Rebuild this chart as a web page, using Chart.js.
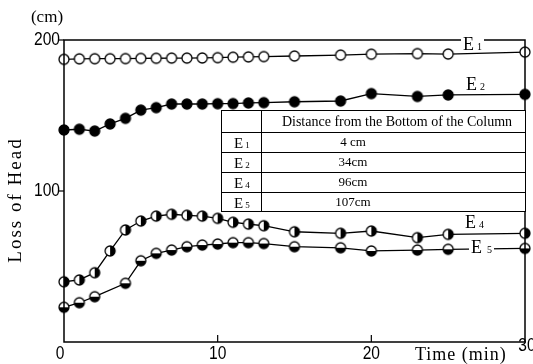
<!DOCTYPE html>
<html><head><meta charset="utf-8">
<script src="https://cdn.jsdelivr.net/npm/chart.js@4/dist/chart.umd.min.js"></script>
<style>html,body{margin:0;padding:0;background:#fff;}canvas{display:block;}</style>
</head><body>
<canvas id="c" width="533" height="364"></canvas>
<script>
// Time of measurement (min)
const timesMain = [0,1,2,3,4,5,6,7,8,9,10,11,12,13,15,18,20,23,25,30];
const timesE5   = [0,1,2,4,5,6,7,8,9,10,11,12,13,15,18,20,23,25,30];

// Loss of head (cm) at each piezometer
const lossE1 = [187.2,187.5,187.6,187.6,187.7,187.8,187.9,188,188,188.1,188.3,188.6,188.8,189,189.4,190,190.6,191,190.7,192];
const lossE2 = [140.4,140.9,139.7,144.4,148.1,153.6,155.2,157.6,157.6,157.6,157.8,157.9,158.3,158.5,159.1,159.6,164.5,162.6,163.6,164];
const lossE4 = [39.9,41.1,45.9,60.3,74.2,80.1,83.4,84.6,83.9,83.4,81.9,79.3,78.1,77,73,72,73.5,69.1,71.3,72];
const lossE5 = [23,26,30,38.9,53.8,58.7,60.9,63.1,64.2,64.9,65.8,65.8,65.2,63.1,62.4,60.3,60.9,61.4,62];

// Piezometer table
const gaugeNames = ['1','2','4','5'];
const gaugeDistances = ['4 cm','34cm','96cm','107cm'];
const tableHeader = 'Distance from the Bottom of the Column';

const SERIF = '"Liberation Serif", "DejaVu Serif", serif';
const SANS = '"Liberation Sans", Arial, sans-serif';

function marker(kind) {
  const c = document.createElement('canvas');
  c.width = 14; c.height = 14;
  const g = c.getContext('2d');
  const cx = 7, cy = 7, r = 5;
  g.beginPath(); g.arc(cx, cy, r, 0, Math.PI * 2);
  g.fillStyle = kind === 'filled' ? '#000' : '#fff';
  g.fill();
  g.fillStyle = '#000';
  if (kind === 'right') {
    g.beginPath(); g.moveTo(cx, cy - r); g.arc(cx, cy, r, -Math.PI / 2, Math.PI / 2); g.closePath(); g.fill();
  } else if (kind === 'bottom') {
    g.beginPath(); g.moveTo(cx + r, cy); g.arc(cx, cy, r, 0, Math.PI); g.closePath(); g.fill();
  }
  g.beginPath(); g.arc(cx, cy, r, 0, Math.PI * 2);
  g.lineWidth = 1.3; g.strokeStyle = '#000'; g.stroke();
  return c;
}

function pts(xs, ys) { return xs.map((x, i) => ({ x, y: ys[i] })); }

function series(label, xs, ys, kind) {
  return {
    label, data: pts(xs, ys), pointStyle: marker(kind),
    borderColor: '#000', borderWidth: 1.3, tension: 0, clip: false,
    pointRadius: 6, pointHoverRadius: 6
  };
}

// narrow numerals
function narrowText(ctx, text, x, y, size, sx, align) {
  ctx.save();
  ctx.font = size + 'px ' + SANS;
  ctx.textBaseline = 'middle';
  ctx.textAlign = align;
  ctx.translate(x, y); ctx.scale(sx, 1);
  ctx.fillText(text, 0, 0);
  ctx.restore();
}

function subLabel(ctx, digit, x, y, eSize, sSize, bg, gap) {
  ctx.save();
  ctx.font = eSize + 'px ' + SERIF;
  const ew = ctx.measureText('E').width;
  ctx.font = sSize + 'px ' + SERIF;
  const sw = ctx.measureText(digit).width;
  if (bg) {
    ctx.fillStyle = '#fff';
    ctx.fillRect(x - 2, y - eSize * 0.75, ew + sw + gap + 4, eSize * 0.8);
  }
  ctx.fillStyle = '#000';
  ctx.textBaseline = 'alphabetic'; ctx.textAlign = 'left';
  ctx.font = eSize + 'px ' + SERIF;
  ctx.fillText('E', x, y);
  ctx.font = sSize + 'px ' + SERIF;
  ctx.fillText(digit, x + ew + gap, y);
  ctx.restore();
}

const decor = {
  id: 'decor',
  afterDraw(chart) {
    const ctx = chart.ctx, a = chart.chartArea;
    const xs = chart.scales.x, ys = chart.scales.y;
    ctx.save();
    ctx.strokeStyle = '#000'; ctx.fillStyle = '#000';

    // frame
    ctx.lineWidth = 1.5;
    ctx.strokeRect(a.left, a.top, a.right - a.left, a.bottom - a.top);

    // y ticks
    ctx.lineWidth = 1.2;
    ys.ticks.forEach(t => {
      if (t.value === 0) return;
      const py = ys.getPixelForValue(t.value);
      ctx.beginPath(); ctx.moveTo(a.left - 6, py); ctx.lineTo(a.left, py); ctx.stroke();
      narrowText(ctx, String(t.value), a.left - 4, py, 19, 0.82, 'right');
    });

    // x ticks (inward marks) and labels
    xs.ticks.forEach(t => {
      const px = xs.getPixelForValue(t.value);
      if (t.value > xs.min && t.value < xs.max) {
        ctx.beginPath(); ctx.moveTo(px, a.bottom); ctx.lineTo(px, a.bottom - 7); ctx.stroke();
      }
      let lx = px, ly = a.bottom + 12;
      if (t.value === xs.min) lx = px - 4;
      if (t.value === xs.max) { lx = px + 2; ly = a.bottom + 4; }
      narrowText(ctx, String(t.value), lx, ly, 19, 0.82, 'center');
    });

    // units and axis titles
    ctx.font = '17px ' + SERIF;
    ctx.textAlign = 'center'; ctx.textBaseline = 'middle';
    ctx.fillText('(cm)', 47, 18);

    ctx.save();
    ctx.font = '19px ' + SERIF;
    ctx.letterSpacing = '2px';
    ctx.translate(16, 200); ctx.rotate(-Math.PI / 2);
    ctx.fillText('Loss of Head', 0, 0);
    ctx.restore();

    ctx.save();
    ctx.font = '18px ' + SERIF;
    ctx.letterSpacing = '1px';
    ctx.textAlign = 'left';
    ctx.fillText('Time (min)', 415, 355);
    ctx.restore();

    // piezometer table
    const tL = 221, tC = 261, tR = a.right, tTop = 110;
    const rowY = [132, 152, 172, 192, 211];
    ctx.fillStyle = '#fff';
    ctx.fillRect(tL, tTop, tR - tL, rowY[4] - tTop);
    ctx.lineWidth = 1;
    ctx.strokeStyle = '#000';
    ctx.strokeRect(tL + 0.5, tTop + 0.5, tR - tL, rowY[4] - tTop);
    ctx.beginPath();
    ctx.moveTo(tC + 0.5, tTop); ctx.lineTo(tC + 0.5, rowY[4]);
    rowY.slice(0, 4).forEach(y => { ctx.moveTo(tL, y + 0.5); ctx.lineTo(tR, y + 0.5); });
    ctx.stroke();
    ctx.fillStyle = '#000';
    ctx.font = '14px ' + SERIF;
    ctx.textAlign = 'center'; ctx.textBaseline = 'middle';
    ctx.fillText(tableHeader, 397, 122);
    gaugeNames.forEach((d, i) => {
      const cy = (rowY[i] + rowY[i + 1]) / 2;
      subLabel(ctx, d, 234, cy + 6, 15, 9, false, 2);
      ctx.font = '13px ' + SERIF;
      ctx.textAlign = 'center'; ctx.textBaseline = 'middle';
      ctx.fillText(gaugeDistances[i], 353, cy + 1);
    });

    // series labels
    subLabel(ctx, '1', 463, 50, 18, 10, true, 3);
    subLabel(ctx, '2', 466, 90, 18, 10, false, 3);
    subLabel(ctx, '4', 465, 228, 18, 10, false, 3);
    subLabel(ctx, '5', 471, 253, 18, 10, true, 5);

    ctx.restore();
  }
};

new Chart(document.getElementById('c'), {
  type: 'line',
  data: {
    datasets: [
      series('E1', timesMain, lossE1, 'open'),
      series('E2', timesMain, lossE2, 'filled'),
      series('E4', timesMain, lossE4, 'right'),
      series('E5', timesE5, lossE5, 'bottom')
    ]
  },
  options: {
    responsive: false,
    animation: false,
    devicePixelRatio: 1,
    layout: { padding: { top: 40, right: 8, left: 0, bottom: 0 } },
    plugins: { legend: { display: false }, tooltip: { enabled: false } },
    scales: {
      x: {
        type: 'linear', min: 0, max: 30,
        ticks: { display: false, stepSize: 10 },
        grid: { display: false }, border: { display: false },
        afterFit: s => { s.height = 22; }
      },
      y: {
        type: 'linear', min: 0, max: 200,
        ticks: { display: false, stepSize: 100 },
        grid: { display: false }, border: { display: false },
        afterFit: s => { s.width = 64; }
      }
    }
  },
  plugins: [decor]
});
</script>
</body></html>
